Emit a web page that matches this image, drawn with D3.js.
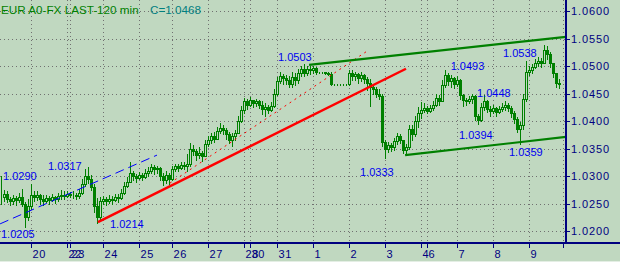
<!DOCTYPE html>
<html>
<head>
<meta charset="utf-8">
<script src="https://cdn.jsdelivr.net/npm/d3@7/dist/d3.min.js"></script>
<style>
  html, body { margin: 0; padding: 0; background: #c0d8c0; }
  svg { display: block; font-family: Arial, "Liberation Sans", sans-serif; }
</style>
</head>
<body>
<div id="chart"></div>
<script>
// 2-hour bars, open = previous close
const closes = [
  1.0262, 1.0268, 1.0258, 1.0255, 1.0260, 1.0256, 1.0262, 1.0250, 1.0225, 1.0245,
  1.0265, 1.0262, 1.0266, 1.0258, 1.0255, 1.0260, 1.0256, 1.0261, 1.0258, 1.0263,
  1.0266, 1.0264, 1.0268, 1.0265, 1.0266, 1.0264, 1.0270, 1.0285, 1.0300, 1.0295,
  1.0280, 1.0245, 1.0225, 1.0255, 1.0258, 1.0254, 1.0259, 1.0256, 1.0262, 1.0260,
  1.0270, 1.0282, 1.0290, 1.0305, 1.0300, 1.0296, 1.0302, 1.0298, 1.0305, 1.0310,
  1.0316, 1.0312, 1.0314, 1.0300, 1.0292, 1.0302, 1.0294, 1.0312, 1.0318, 1.0315,
  1.0320, 1.0318, 1.0322, 1.0350, 1.0345, 1.0338, 1.0342, 1.0336, 1.0358, 1.0365,
  1.0372, 1.0368, 1.0382, 1.0388, 1.0384, 1.0376, 1.0366, 1.0372, 1.0378, 1.0400,
  1.0420, 1.0436, 1.0430, 1.0438, 1.0432, 1.0436, 1.0430, 1.0422, 1.0426, 1.0420,
  1.0428, 1.0450, 1.0472, 1.0482, 1.0478, 1.0474, 1.0468, 1.0480, 1.0475, 1.0488,
  1.0494, 1.0488, 1.0495, 1.0492, 1.0496, 1.0490, 1.0489, 1.0489, 1.0488, 1.0486,
  1.0467, 1.0467, 1.0467, 1.0467, 1.0467, 1.0467, 1.0488, 1.0482, 1.0486, 1.0478,
  1.0484, 1.0476, 1.0470, 1.0462, 1.0458, 1.0450, 1.0446, 1.0362, 1.0350, 1.0356,
  1.0352, 1.0364, 1.0372, 1.0366, 1.0348, 1.0352, 1.0385, 1.0376, 1.0400, 1.0415,
  1.0420, 1.0424, 1.0418, 1.0424, 1.0430, 1.0442, 1.0436, 1.0465, 1.0484, 1.0472,
  1.0478, 1.0468, 1.0474, 1.0448, 1.0438, 1.0436, 1.0440, 1.0445, 1.0410, 1.0402,
  1.0425, 1.0436, 1.0422, 1.0418, 1.0424, 1.0416, 1.0422, 1.0426, 1.0430, 1.0424,
  1.0414, 1.0404, 1.0386, 1.0392, 1.0440, 1.0490, 1.0492, 1.0498, 1.0505, 1.0510,
  1.0506, 1.0530, 1.0522, 1.0505, 1.0488, 1.0470, 1.0468
];
const highs = [
  1.0300, 1.0275, 1.0272, 1.0262, 1.0266, 1.0264, 1.0270, 1.0276, 1.0252, 1.0258,
  1.0285, 1.0272, 1.0272, 1.0268, 1.0265, 1.0266, 1.0263, 1.0268, 1.0264, 1.0269,
  1.0274, 1.0272, 1.0273, 1.0271, 1.0272, 1.0270, 1.0276, 1.0295, 1.0312, 1.0317,
  1.0302, 1.0285, 1.0260, 1.0262, 1.0264, 1.0262, 1.0265, 1.0263, 1.0268, 1.0268,
  1.0276, 1.0290, 1.0298, 1.0325, 1.0310, 1.0304, 1.0308, 1.0305, 1.0312, 1.0316,
  1.0322, 1.0320, 1.0318, 1.0316, 1.0305, 1.0310, 1.0305, 1.0318, 1.0322, 1.0322,
  1.0326, 1.0326, 1.0340, 1.0360, 1.0356, 1.0350, 1.0352, 1.0345, 1.0366, 1.0372,
  1.0378, 1.0380, 1.0390, 1.0396, 1.0392, 1.0388, 1.0380, 1.0378, 1.0384, 1.0410,
  1.0428, 1.0442, 1.0440, 1.0444, 1.0438, 1.0440, 1.0438, 1.0436, 1.0432, 1.0430,
  1.0434, 1.0458, 1.0480, 1.0489, 1.0486, 1.0484, 1.0482, 1.0490, 1.0488, 1.0495,
  1.0500, 1.0503, 1.0500, 1.0500, 1.0500, 1.0498, 1.0490, 1.0490, 1.0490, 1.0490,
  1.0490, 1.0468, 1.0468, 1.0468, 1.0468, 1.0468, 1.0492, 1.0492, 1.0490, 1.0488,
  1.0490, 1.0486, 1.0480, 1.0476, 1.0468, 1.0462, 1.0458, 1.0450, 1.0365, 1.0362,
  1.0360, 1.0370, 1.0378, 1.0376, 1.0366, 1.0358, 1.0392, 1.0392, 1.0410, 1.0425,
  1.0435, 1.0432, 1.0428, 1.0430, 1.0436, 1.0450, 1.0448, 1.0475, 1.0493, 1.0488,
  1.0484, 1.0480, 1.0482, 1.0476, 1.0450, 1.0442, 1.0445, 1.0450, 1.0448, 1.0412,
  1.0432, 1.0448, 1.0438, 1.0428, 1.0430, 1.0426, 1.0428, 1.0432, 1.0436, 1.0432,
  1.0428, 1.0418, 1.0408, 1.0398, 1.0450, 1.0510, 1.0500, 1.0504, 1.0512, 1.0516,
  1.0515, 1.0538, 1.0536, 1.0526, 1.0505, 1.0484, 1.0476
];
const lows = [
  1.0250, 1.0255, 1.0252, 1.0248, 1.0250, 1.0247, 1.0252, 1.0246, 1.0207, 1.0220,
  1.0240, 1.0255, 1.0256, 1.0250, 1.0248, 1.0252, 1.0250, 1.0254, 1.0251, 1.0255,
  1.0258, 1.0259, 1.0261, 1.0262, 1.0260, 1.0259, 1.0260, 1.0268, 1.0282, 1.0288,
  1.0275, 1.0235, 1.0214, 1.0222, 1.0250, 1.0248, 1.0251, 1.0250, 1.0254, 1.0252,
  1.0258, 1.0268, 1.0280, 1.0290, 1.0292, 1.0290, 1.0294, 1.0292, 1.0296, 1.0300,
  1.0305, 1.0304, 1.0306, 1.0292, 1.0284, 1.0288, 1.0286, 1.0292, 1.0310, 1.0310,
  1.0312, 1.0312, 1.0310, 1.0318, 1.0338, 1.0330, 1.0332, 1.0328, 1.0338, 1.0355,
  1.0360, 1.0362, 1.0370, 1.0378, 1.0376, 1.0368, 1.0360, 1.0355, 1.0366, 1.0378,
  1.0398, 1.0415, 1.0422, 1.0428, 1.0426, 1.0428, 1.0424, 1.0412, 1.0410, 1.0414,
  1.0418, 1.0426, 1.0448, 1.0470, 1.0468, 1.0468, 1.0462, 1.0462, 1.0466, 1.0470,
  1.0482, 1.0482, 1.0484, 1.0486, 1.0488, 1.0486, 1.0488, 1.0488, 1.0486, 1.0484,
  1.0466, 1.0466, 1.0466, 1.0466, 1.0466, 1.0466, 1.0466, 1.0475, 1.0474, 1.0470,
  1.0472, 1.0470, 1.0456, 1.0428, 1.0450, 1.0444, 1.0440, 1.0355, 1.0333, 1.0344,
  1.0346, 1.0348, 1.0358, 1.0360, 1.0342, 1.0340, 1.0350, 1.0366, 1.0372, 1.0390,
  1.0405, 1.0416, 1.0414, 1.0416, 1.0420, 1.0428, 1.0430, 1.0436, 1.0462, 1.0466,
  1.0462, 1.0460, 1.0464, 1.0440, 1.0428, 1.0430, 1.0432, 1.0432, 1.0402, 1.0394,
  1.0400, 1.0420, 1.0416, 1.0410, 1.0414, 1.0410, 1.0414, 1.0418, 1.0420, 1.0418,
  1.0408, 1.0396, 1.0380, 1.0359, 1.0385, 1.0436, 1.0484, 1.0488, 1.0496, 1.0500,
  1.0498, 1.0505, 1.0512, 1.0498, 1.0480, 1.0462, 1.0460
];

// day boundaries (bar index) and their labels
const dayLabels = ['20', '22', '23', '24', '25', '26', '27', '28', '30', '31', '1', '2', '3', '4', '6', '7', '8', '9', ''];
const dayStarts = [10, 22, 23, 34, 46, 57, 69, 81, 83, 92, 104, 116, 128, 140, 142, 152, 164, 176, 187.3];

const priceTicks = [1.0200, 1.0250, 1.0300, 1.0350, 1.0400, 1.0450, 1.0500, 1.0550, 1.0600];

// trend lines as [bar index, price] end points
const blueTrend = [[-0.3, 1.0213], [52, 1.0338]];
const redTrend = [[32.3, 1.0216], [135, 1.0495]];
const redDotted = [[56.3, 1.0287], [122, 1.0527]];
const channelTop = [[102.7, 1.0502], [188.3, 1.0553]];
const channelBottom = [[134.7, 1.0338], [188.3, 1.0371]];

// price notes: text and anchor (bar index, price)
const noteText = ['1.0290', '1.0317', '1.0205', '1.0214', '1.0503', '1.0333', '1.0493', '1.0448', '1.0394', '1.0359', '1.0538'];
const noteIndex = [0.67, 15.67, 0, 36.33, 92.33, 119.67, 149.9, 158.67, 152.67, 169.33, 167.33];
const notePrice = [1.0293, 1.0311, 1.0187, 1.0206, 1.0509, 1.0300, 1.0493, 1.0444, 1.0367, 1.0336, 1.0516];

const config = {
  width: 620,
  height: 262,
  axisX: 566,
  axisY: 243,
  bg: '#c0d8c0',
  barColor: '#008000',
  axisColor: '#000080',
  gridColor: '#707070',
  noteColor: '#0000f0'
};

class PriceChart {
  constructor(parentElement, config) {
    this.parentElement = parentElement;
    this.config = config;
  }

  initChart() {
    const vis = this;
    const { width, height, axisX, axisY } = vis.config;

    vis.svg = d3.select(vis.parentElement)
      .append('svg')
      .attr('width', width)
      .attr('height', height);

    vis.svg.append('rect')
      .attr('width', width)
      .attr('height', height)
      .attr('fill', vis.config.bg);

    vis.scaleX = d3.scaleLinear().domain([0, closes.length - 1]).range([1, 559]);
    vis.scaleY = d3.scaleLinear().domain([1.02, 1.06]).range([231, 11]);

    vis.svg.append('clipPath').attr('id', 'plot-clip')
      .append('rect').attr('x', 0).attr('y', 0).attr('width', axisX).attr('height', axisY);

    vis.plot = vis.svg.append('g').attr('clip-path', 'url(#plot-clip)');
  }

  drawGrid() {
    const vis = this;
    const { axisX, axisY, gridColor } = vis.config;
    const grid = vis.plot.append('g')
      .attr('stroke', gridColor)
      .attr('stroke-width', 1)
      .attr('stroke-dasharray', '1,3')
      .attr('shape-rendering', 'crispEdges');

    grid.selectAll('.hgrid')
      .data(priceTicks)
      .join('line')
      .attr('class', 'hgrid')
      .attr('x1', 0).attr('x2', axisX)
      .attr('y1', d => Math.round(vis.scaleY(d)) + 0.5)
      .attr('y2', d => Math.round(vis.scaleY(d)) + 0.5);

    grid.selectAll('.vgrid')
      .data(dayStarts)
      .join('line')
      .attr('class', 'vgrid')
      .attr('y1', 0).attr('y2', axisY)
      .attr('x1', d => Math.round(vis.scaleX(d)) + 0.5)
      .attr('x2', d => Math.round(vis.scaleX(d)) + 0.5);
  }

  drawBars() {
    const vis = this;
    const bars = closes.map((c, i) => ({
      i,
      open: i > 0 ? closes[i - 1] : c,
      close: c,
      high: highs[i],
      low: lows[i]
    }));

    const g = vis.plot.append('g').attr('shape-rendering', 'crispEdges');

    g.selectAll('.wick')
      .data(bars)
      .join('line')
      .attr('class', 'wick')
      .attr('x1', d => Math.round(vis.scaleX(d.i)) + 0.5)
      .attr('x2', d => Math.round(vis.scaleX(d.i)) + 0.5)
      .attr('y1', d => Math.round(vis.scaleY(Math.max(d.high, d.open, d.close))))
      .attr('y2', d => Math.round(vis.scaleY(Math.min(d.low, d.open, d.close))) + 1)
      .attr('stroke', vis.config.barColor)
      .attr('stroke-width', 1);

    g.selectAll('.body')
      .data(bars)
      .join('rect')
      .attr('class', 'body')
      .attr('x', d => Math.round(vis.scaleX(d.i)) - 0.5)
      .attr('width', 2)
      .attr('y', d => Math.round(vis.scaleY(Math.max(d.open, d.close))) + 0.5)
      .attr('height', d => Math.max(0, Math.round(vis.scaleY(Math.min(d.open, d.close))) - Math.round(vis.scaleY(Math.max(d.open, d.close)))))
      .attr('fill', d => d.close < d.open ? vis.config.barColor : vis.config.bg)
      .attr('stroke', vis.config.barColor)
      .attr('stroke-width', 1);
  }

  drawStudies() {
    const vis = this;
    const line = d3.line()
      .x(d => vis.scaleX(d[0]))
      .y(d => vis.scaleY(d[1]));

    const studies = [
      { pts: blueTrend, color: '#0000ff', w: 1, dash: '9,5' },
      { pts: redDotted, color: '#ff0000', w: 1, dash: '2,4' },
      { pts: redTrend, color: '#ff0000', w: 2.5, dash: null },
      { pts: channelTop, color: '#008000', w: 2.2, dash: null },
      { pts: channelBottom, color: '#008000', w: 2.2, dash: null }
    ];

    vis.plot.selectAll('.study')
      .data(studies)
      .join('path')
      .attr('class', 'study')
      .attr('d', d => line(d.pts))
      .attr('fill', 'none')
      .attr('stroke', d => d.color)
      .attr('stroke-width', d => d.w)
      .attr('stroke-dasharray', d => d.dash);

    vis.svg.selectAll('.note')
      .data(noteText)
      .join('text')
      .attr('class', 'note')
      .attr('x', (d, i) => vis.scaleX(noteIndex[i]))
      .attr('y', (d, i) => vis.scaleY(notePrice[i]))
      .attr('fill', vis.config.noteColor)
      .style('font-size', '11px')
      .text(d => d);
  }

  drawAxes() {
    const vis = this;
    const { width, axisX, axisY, axisColor } = vis.config;

    // price axis on the right
    const yAxis = vis.svg.append('g')
      .attr('transform', `translate(${axisX}, 0)`)
      .call(d3.axisRight(vis.scaleY)
        .tickValues(priceTicks)
        .tickFormat(d3.format('.4f'))
        .tickSize(4)
        .tickPadding(1));
    yAxis.select('.domain').remove();
    yAxis.selectAll('line').attr('stroke', axisColor).attr('shape-rendering', 'crispEdges');
    yAxis.selectAll('text')
      .attr('fill', axisColor)
      .style('font-size', '11px')
      .style('letter-spacing', '0.9px')
      .style('font-family', 'Arial, "Liberation Sans", sans-serif');

    // date axis at the bottom
    const xAxis = vis.svg.append('g')
      .attr('transform', `translate(0, ${axisY})`)
      .call(d3.axisBottom(vis.scaleX)
        .tickValues(dayStarts)
        .tickFormat((d, i) => dayLabels[i])
        .tickSize(5));
    xAxis.select('.domain').remove();
    xAxis.selectAll('.tick').attr('transform', d => `translate(${Math.round(vis.scaleX(d)) + 0.5},0)`);
    xAxis.selectAll('line').attr('stroke', axisColor).attr('shape-rendering', 'crispEdges');
    xAxis.selectAll('text')
      .attr('fill', axisColor)
      .attr('text-anchor', 'start')
      .attr('x', 1)
      .attr('y', 7)
      .style('font-size', '11px')
      .style('letter-spacing', '0.6px')
      .style('font-family', 'Arial, "Liberation Sans", sans-serif');

    // axis lines
    vis.svg.append('line')
      .attr('x1', axisX).attr('x2', axisX)
      .attr('y1', 0).attr('y2', axisY + 1)
      .attr('stroke', axisColor).attr('stroke-width', 2)
      .attr('shape-rendering', 'crispEdges');
    vis.svg.append('line')
      .attr('x1', 0).attr('x2', width)
      .attr('y1', axisY).attr('y2', axisY)
      .attr('stroke', axisColor).attr('stroke-width', 2)
      .attr('shape-rendering', 'crispEdges');

    // bottom frame edge
    vis.svg.append('line')
      .attr('x1', 0).attr('x2', width)
      .attr('y1', 261.5).attr('y2', 261.5)
      .attr('stroke', '#e4eee4').attr('stroke-width', 1);
  }

  drawTitle() {
    const vis = this;
    vis.svg.append('text')
      .attr('x', 1).attr('y', 14)
      .attr('fill', '#008000')
      .style('font-size', '11.7px')
      .text('EUR A0-FX LAST-120 min');
    vis.svg.append('text')
      .attr('x', 150).attr('y', 14)
      .attr('fill', '#008080')
      .style('font-size', '11.7px')
      .text('C=' + d3.format('.4f')(closes[closes.length - 1]));
  }
}

const chart = new PriceChart('#chart', config);
chart.initChart();
chart.drawGrid();
chart.drawBars();
chart.drawStudies();
chart.drawAxes();
chart.drawTitle();
</script>
</body>
</html>
